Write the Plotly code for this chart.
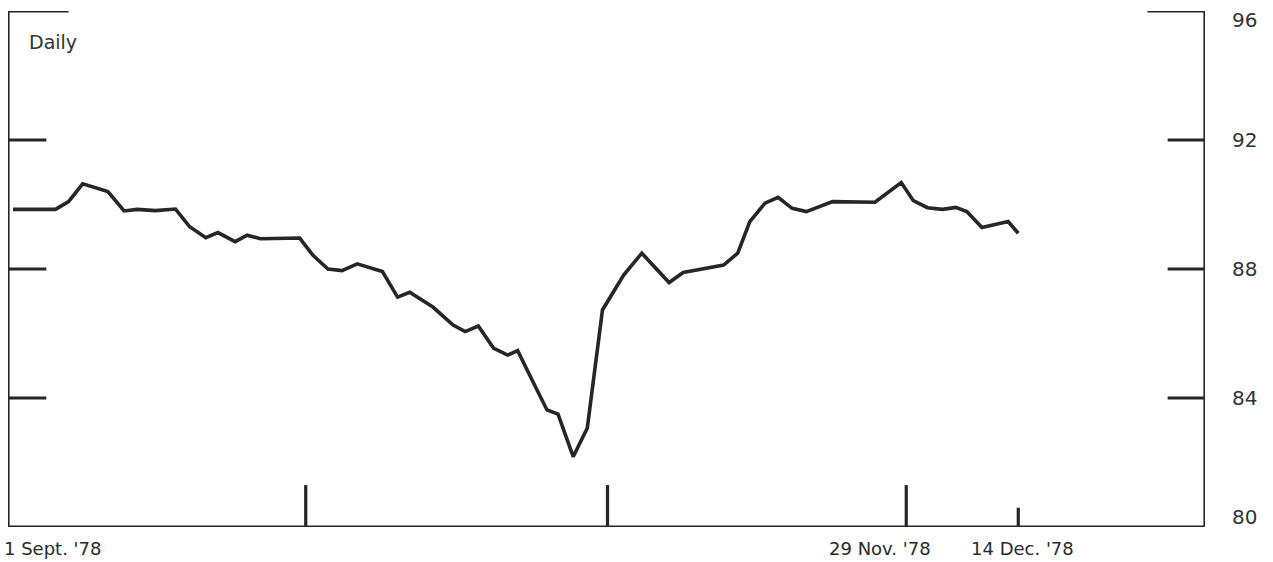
import plotly.graph_objects as go

# ---- data (x: days after 1 Sept. 1978 on the chart's scale; y: index value) ----
days = [0.5, 4.7, 6.0, 7.4, 9.9, 11.5, 12.8, 14.6, 16.6, 18.0, 19.6, 20.8, 22.5, 23.7,
        25.0, 28.9, 30.2, 31.7, 33.1, 34.6, 37.1, 38.6, 39.8, 42.1, 44.1, 45.3, 46.6,
        48.1, 49.5, 50.5, 52.0, 53.4, 54.5, 56.0, 57.4, 58.9, 61.0, 62.8, 65.5, 66.9,
        70.9, 72.3, 73.5, 75.0, 76.3, 77.7, 79.1, 81.7, 85.9, 88.5, 89.7, 91.1, 92.6,
        93.9, 95.0, 96.5, 99.1, 100.1]
values = [89.85, 89.85, 90.09, 90.64, 90.40, 89.80, 89.85, 89.81, 89.86, 89.31, 88.97,
          89.13, 88.85, 89.05, 88.94, 88.96, 88.43, 88.00, 87.95, 88.16, 87.92, 87.13,
          87.28, 86.82, 86.26, 86.06, 86.23, 85.55, 85.33, 85.47, 84.51, 83.63, 83.50,
          82.18, 83.07, 86.73, 87.81, 88.49, 87.58, 87.89, 88.12, 88.49, 89.47, 90.04,
          90.22, 89.88, 89.78, 90.09, 90.07, 90.68, 90.12, 89.90, 89.85, 89.91, 89.78,
          89.29, 89.47, 89.11]

y_ticks = [96, 92, 88, 84, 80]
x_tick_days = [29.5, 59.4, 89.0, 100.1]
x_label_days = [0.0, 89.0, 100.1]
x_labels = ["1 Sept. '78", "29 Nov. '78", "14 Dec. '78"]
title_text = "Daily"

X_MAX = 118.6
Y_MIN, Y_MAX = 80, 96
INK = "#262626"
FONT = "DejaVu Sans"

fig = go.Figure()
fig.add_trace(go.Scatter(x=days, y=values, mode="lines",
                         line=dict(color=INK, width=3.6), hoverinfo="skip",
                         showlegend=False))

shapes = []
lw = 3.2
# axis frame: left, right, bottom
shapes.append(dict(type="line", xref="x", yref="y", x0=0, x1=0, y0=Y_MIN, y1=Y_MAX,
                   line=dict(color=INK, width=lw)))
shapes.append(dict(type="line", xref="x", yref="y", x0=X_MAX, x1=X_MAX, y0=Y_MIN, y1=Y_MAX,
                   line=dict(color=INK, width=lw)))
shapes.append(dict(type="line", xref="x", yref="y", x0=0, x1=X_MAX, y0=Y_MIN, y1=Y_MIN,
                   line=dict(color=INK, width=lw)))
# y ticks on both sides
for v in y_ticks:
    if v == Y_MIN:
        continue
    left_len = 6.0 if v == Y_MAX else 3.8
    right_len = 5.7 if v == Y_MAX else 3.7
    shapes.append(dict(type="line", xref="x", yref="y", x0=0, x1=left_len, y0=v, y1=v,
                       line=dict(color=INK, width=lw)))
    shapes.append(dict(type="line", xref="x", yref="y", x0=X_MAX - right_len, x1=X_MAX,
                       y0=v, y1=v, line=dict(color=INK, width=lw)))
# x ticks
for i, d in enumerate(x_tick_days):
    top = 80.6 if i == len(x_tick_days) - 1 else 81.3
    shapes.append(dict(type="line", xref="x", yref="y", x0=d, x1=d, y0=Y_MIN, y1=top,
                       line=dict(color=INK, width=lw)))

annotations = []
# right-hand value labels
for v in y_ticks:
    ys = 0
    if v == Y_MAX:
        ys = -9
    elif v == Y_MIN:
        ys = 10
    annotations.append(dict(xref="paper", yref="y", x=1, y=v, xanchor="center",
                            yanchor="middle", xshift=39, yshift=ys, text=str(v),
                            showarrow=False, font=dict(family=FONT, size=20, color="#333")))
# date labels
shifts = [-6, -26, 4]
anchors = ["left", "center", "center"]
for d, lab, s, a in zip(x_label_days, x_labels, shifts, anchors):
    annotations.append(dict(xref="x", yref="paper", x=d, y=0, xanchor=a, yanchor="middle",
                            xshift=s, yshift=-21, text=lab, showarrow=False,
                            font=dict(family=FONT, size=18, color="#2a2a2a")))
# "Daily"
annotations.append(dict(xref="x", yref="y", x=1.9, y=95.05, xanchor="left", yanchor="middle",
                        text=title_text, showarrow=False,
                        font=dict(family=FONT, size=19, color="#333")))

fig.update_layout(
    width=1273, height=562,
    margin=dict(l=8, r=68, t=11, b=35),
    paper_bgcolor="white", plot_bgcolor="white",
    xaxis=dict(range=[0, X_MAX], visible=False, fixedrange=True),
    yaxis=dict(range=[Y_MIN, Y_MAX], visible=False, fixedrange=True),
    shapes=shapes, annotations=annotations,
    showlegend=False,
)

fig.write_html("out.html", config={"displayModeBar": False},
               post_script="document.body.style.margin='0';document.body.style.overflow='hidden';")
